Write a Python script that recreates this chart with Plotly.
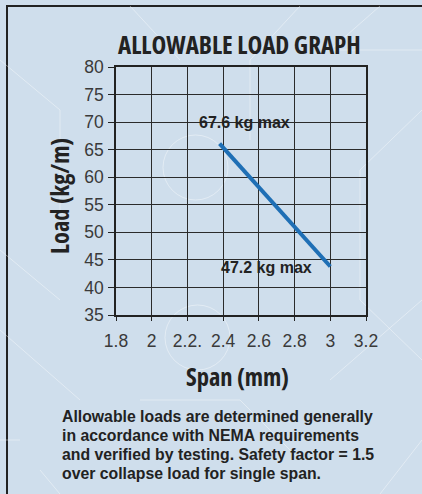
import plotly.graph_objects as go

# Allowable load line (span in m, load in kg/m)
span = [2.38, 3.0]
load = [66.1, 43.8]

x_tick_vals = [1.8, 2.0, 2.2, 2.4, 2.6, 2.8, 3.0, 3.2]
x_tick_text = ["1.8", "2", "2.2.", "2.4", "2.6", "2.8", "3", "3.2"]
y_tick_vals = [35, 40, 45, 50, 55, 60, 65, 70, 75, 80]

max_labels = ["67.6 kg max", "47.2 kg max"]
max_label_x = [2.52, 2.645]
max_label_y = [70.0, 43.6]

title_text = "ALLOWABLE LOAD GRAPH"
x_title = "Span (mm)"
y_title = "Load (kg/m)"
note_lines = [
    "Allowable loads are determined generally",
    "in accordance with NEMA requirements",
    "and verified by testing. Safety factor = 1.5",
    "over collapse load for single span.",
]

W, H = 422, 494
L, R, T, B = 116, 56, 67, 179
PW, PH = W - L - R, H - T - B


def px(x):
    return (x - L) / PW


def py(y):
    return (H - B - y) / PH


def narrow(s):
    return '<span style="font-stretch:condensed">%s</span>' % s


BG = "#cfdeec"
INK = "#222222"
COND = "Open Sans, DejaVu Sans Condensed, sans-serif"
SANS = "Liberation Sans, Arial, Helvetica, sans-serif"

fig = go.Figure()
fig.add_trace(go.Scatter(
    x=span, y=load, mode="lines",
    line=dict(color="#1f6fb5", width=4),
    hoverinfo="skip", showlegend=False,
))

annotations = []
for t, x, y in zip(max_labels, max_label_x, max_label_y):
    annotations.append(dict(
        x=x, y=y, xref="x", yref="y", text=t, showarrow=False,
        xanchor="center", yanchor="middle",
        font=dict(family=SANS, size=16, color=INK, weight="bold"),
    ))

annotations.append(dict(
    x=px(239), y=py(44), xref="paper", yref="paper",
    text=narrow(title_text),
    showarrow=False, xanchor="center", yanchor="middle",
    font=dict(family=COND, size=25, color=INK, weight="bold"),
))
annotations.append(dict(
    x=px(59), y=py(196), xref="paper", yref="paper",
    text=narrow(y_title),
    showarrow=False, xanchor="center", yanchor="middle", textangle=-90,
    font=dict(family=COND, size=24.5, color=INK, weight="bold"),
))
annotations.append(dict(
    x=px(237), y=py(376), xref="paper", yref="paper",
    text=narrow(x_title),
    showarrow=False, xanchor="center", yanchor="middle",
    font=dict(family=COND, size=24.5, color=INK, weight="bold"),
))
for i, line in enumerate(note_lines):
    annotations.append(dict(
        x=px(60), y=py(416 + 19 * i), xref="paper", yref="paper", text=line,
        showarrow=False, xanchor="left", yanchor="middle",
        font=dict(family=SANS, size=15.8, color=INK, weight="bold"),
    ))

shapes = [
    # outer panel frame
    dict(type="rect", xref="paper", yref="paper",
         x0=px(7), x1=px(440), y0=py(6), y1=py(520),
         line=dict(color=INK, width=2), layer="below"),
]

# faint decorative line-work in the panel background
deco = [
    (0, 60, 60, 110), (60, 110, 60, 250), (0, 250, 60, 300),
    (130, 6, 180, 60), (300, 6, 250, 60), (250, 60, 250, 140),
    (380, 6, 330, 50), (330, 50, 422, 50), (422, 110, 360, 170),
    (360, 170, 360, 300), (360, 300, 422, 360), (0, 330, 80, 400),
    (140, 400, 240, 400), (240, 400, 300, 460), (330, 380, 422, 300),
    (422, 440, 380, 494), (0, 440, 20, 440), (40, 470, 60, 494),
]
for x0, y0, x1, y1 in deco:
    shapes.append(dict(type="line", xref="paper", yref="paper",
                       x0=px(x0), y0=py(y0), x1=px(x1), y1=py(y1),
                       line=dict(color="rgba(255,255,255,0.4)", width=1),
                       layer="below"))
shapes.append(dict(type="circle", xref="paper", yref="paper",
                   x0=px(163), x1=px(228), y0=py(135), y1=py(200),
                   line=dict(color="rgba(255,255,255,0.4)", width=1),
                   layer="below"))
shapes.append(dict(type="circle", xref="paper", yref="paper",
                   x0=px(165), x1=px(230), y0=py(305), y1=py(370),
                   line=dict(color="rgba(255,255,255,0.4)", width=1),
                   layer="below"))

axis_common = dict(
    showgrid=True, gridcolor="#2b2b2b", gridwidth=1,
    showline=True, linecolor=INK, linewidth=1.5, mirror=True,
    ticks="outside", tickcolor=INK, tickwidth=1,
    zeroline=False, fixedrange=True,
    tickfont=dict(family=SANS, size=17.5, color="#3a3a3a"),
)

fig.update_layout(
    width=W, height=H,
    margin=dict(l=L, r=R, t=T, b=B, pad=0),
    paper_bgcolor=BG, plot_bgcolor="rgba(0,0,0,0)",
    xaxis=dict(range=[1.8, 3.2], tickvals=x_tick_vals, ticktext=x_tick_text,
               ticklen=4, ticklabelstandoff=5, **axis_common),
    yaxis=dict(range=[35, 80], tickvals=y_tick_vals, ticklen=6,
               ticklabelstandoff=1, **axis_common),
    annotations=annotations,
    shapes=shapes,
    showlegend=False,
)

fig.write_html("out.html", config={"displayModeBar": False})
